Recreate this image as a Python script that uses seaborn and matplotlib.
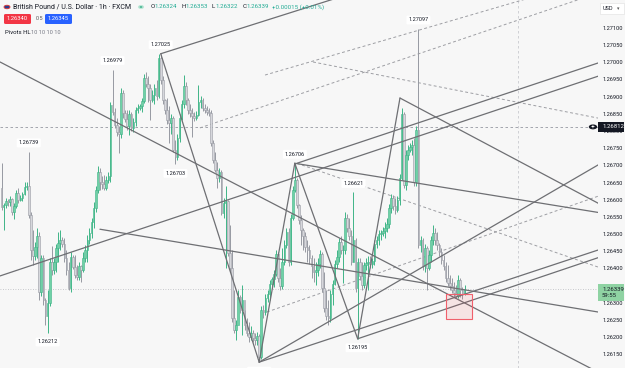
import numpy as np
import pandas as pd
import matplotlib
matplotlib.use("Agg")
import matplotlib.pyplot as plt
import seaborn as sns
from matplotlib.patches import Rectangle, FancyBboxPatch, Circle

sns.set_theme(style="white")
plt.rcParams["font.family"] = ["Roboto", "DejaVu Sans"]

# ---------------- data (GBPUSD 1h) ----------------
first_open = 1.26634
closes = [1.26579,1.26585,1.26596,1.26592,1.26602,1.26564,1.26582,1.26620,1.26599,1.26606,
          1.26617,1.26637,1.26640,1.26555,1.26453,1.26436,1.26462,1.26494,1.26331,1.26430,
          1.26308,1.26261,1.26299,1.26418,1.26395,1.26420,1.26459,1.26474,1.26483,1.26470,
          1.26430,1.26395,1.26343,1.26433,1.26405,1.26380,1.26375,1.26407,1.26395,1.26430,
          1.26453,1.26483,1.26503,1.26535,1.26576,1.26628,1.26680,1.26651,1.26645,1.26634,
          1.26657,1.26670,1.26875,1.26855,1.26817,1.26797,1.26791,1.26910,1.26852,1.26835,
          1.26814,1.26849,1.26808,1.26826,1.26861,1.26867,1.26872,1.26887,1.26954,1.26937,
          1.26925,1.26890,1.26905,1.26925,1.26902,1.27012,1.26948,1.26890,1.26860,1.26832,
          1.26823,1.26838,1.26744,1.26724,1.26779,1.26838,1.26878,1.26931,1.26890,1.26861,
          1.26852,1.26843,1.26838,1.26846,1.26884,1.26890,1.26867,1.26861,1.26855,1.26852,
          1.26765,1.26716,1.26686,1.26663,1.26680,1.26561,1.26590,1.26596,1.26445,1.26401,
          1.26255,1.26220,1.26235,1.26316,1.26278,1.26308,1.26235,1.26212,1.26200,1.26212,
          1.26197,1.26191,1.26203,1.26142,1.26278,1.26273,1.26313,1.26325,1.26354,1.26368,
          1.26383,1.26442,1.26372,1.26348,1.26418,1.26468,1.26506,1.26418,1.26547,1.26628,
          1.26657,1.26585,1.26541,1.26512,1.26494,1.26462,1.26453,1.26430,1.26407,1.26389,
          1.26395,1.26413,1.26442,1.26343,1.26285,1.26261,1.26255,1.26325,1.26354,1.26413,
          1.26433,1.26477,1.26453,1.26453,1.26547,1.26517,1.26494,1.26418,1.26483,1.26343,
          1.26418,1.26378,1.26351,1.26410,1.26416,1.26418,1.26413,1.26421,1.26471,1.26483,
          1.26500,1.26503,1.26510,1.26517,1.26529,1.26576,1.26605,1.26582,1.26570,1.26599,
          1.26663,1.26849,1.26643,1.26730,1.26745,1.26752,1.26759,1.26651,1.26803,1.26468,
          1.26483,1.26407,1.26459,1.26401,1.26439,1.26483,1.26503,1.26483,1.26468,1.26448,
          1.26424,1.26407,1.26372,1.26358,1.26348,1.26337,1.26329,1.26320,1.26366,1.26337,
          1.26324,1.26339]
highs = [1.26707,1.26590,1.26605,1.26602,1.26611,1.26605,1.26590,1.26628,1.26634,1.26615,
         1.26622,1.26651,1.26651,1.26739,1.26564,1.26512,1.26478,1.26517,1.26506,1.26439,
         1.26439,1.26313,1.26337,1.26430,1.26465,1.26430,1.26471,1.26506,1.26512,1.26490,
         1.26488,1.26453,1.26418,1.26448,1.26440,1.26439,1.26410,1.26418,1.26410,1.26448,
         1.26468,1.26497,1.26517,1.26547,1.26593,1.26640,1.26698,1.26692,1.26668,1.26672,
         1.26669,1.26682,1.26884,1.26979,1.26867,1.26838,1.26814,1.26925,1.26919,1.26860,
         1.26861,1.26861,1.26855,1.26838,1.26870,1.26878,1.26880,1.26896,1.26966,1.26972,
         1.26960,1.26937,1.26918,1.26937,1.26948,1.27024,1.27025,1.26960,1.26892,1.26896,
         1.26873,1.26849,1.26843,1.26774,1.26791,1.26849,1.26890,1.26963,1.26942,1.26896,
         1.26878,1.26867,1.26855,1.26858,1.26934,1.26902,1.26896,1.26878,1.26873,1.26867,
         1.26861,1.26774,1.26739,1.26710,1.26692,1.26686,1.26605,1.26640,1.26600,1.26526,
         1.26453,1.26337,1.26249,1.26337,1.26322,1.26351,1.26278,1.26255,1.26244,1.26232,
         1.26220,1.26212,1.26214,1.26209,1.26290,1.26293,1.26325,1.26337,1.26366,1.26376,
         1.26395,1.26453,1.26448,1.26401,1.26459,1.26483,1.26517,1.26517,1.26558,1.26640,
         1.26706,1.26663,1.26587,1.26555,1.26517,1.26506,1.26483,1.26468,1.26439,1.26430,
         1.26418,1.26430,1.26453,1.26448,1.26389,1.26337,1.26308,1.26337,1.26366,1.26424,
         1.26453,1.26488,1.26494,1.26468,1.26564,1.26558,1.26547,1.26512,1.26621,1.26488,
         1.26430,1.26430,1.26418,1.26418,1.26430,1.26436,1.26436,1.26430,1.26483,1.26494,
         1.26512,1.26512,1.26520,1.26535,1.26547,1.26587,1.26617,1.26614,1.26605,1.26611,
         1.26675,1.26867,1.26855,1.26745,1.26759,1.26765,1.26774,1.26779,1.26814,1.27097,
         1.26494,1.26488,1.26471,1.26465,1.26453,1.26494,1.26526,1.26517,1.26506,1.26474,
         1.26459,1.26439,1.26418,1.26410,1.26381,1.26372,1.26360,1.26351,1.26381,1.26372,
         1.26346,1.26353]
lows = [1.26570,1.26512,1.26576,1.26583,1.26582,1.26555,1.26544,1.26576,1.26590,1.26595,
        1.26596,1.26614,1.26628,1.26547,1.26424,1.26410,1.26425,1.26430,1.26308,1.26319,
        1.26293,1.26235,1.26212,1.26290,1.26380,1.26385,1.26389,1.26418,1.26453,1.26462,
        1.26418,1.26380,1.26337,1.26331,1.26398,1.26372,1.26366,1.26366,1.26360,1.26389,
        1.26418,1.26418,1.26471,1.26488,1.26517,1.26564,1.26620,1.26628,1.26630,1.26628,
        1.26628,1.26650,1.26651,1.26846,1.26808,1.26785,1.26736,1.26779,1.26838,1.26825,
        1.26803,1.26788,1.26800,1.26797,1.26814,1.26852,1.26860,1.26855,1.26881,1.26928,
        1.26884,1.26832,1.26885,1.26878,1.26890,1.26896,1.26937,1.26878,1.26850,1.26820,
        1.26765,1.26791,1.26739,1.26703,1.26716,1.26768,1.26832,1.26867,1.26875,1.26849,
        1.26841,1.26782,1.26829,1.26832,1.26843,1.26867,1.26858,1.26852,1.26846,1.26843,
        1.26756,1.26707,1.26680,1.26634,1.26651,1.26555,1.26547,1.26401,1.26436,1.26389,
        1.26244,1.26212,1.26191,1.26244,1.26270,1.26206,1.26220,1.26203,1.26185,1.26191,
        1.26185,1.26177,1.26177,1.26127,1.26136,1.26255,1.26264,1.26302,1.26308,1.26345,
        1.26346,1.26378,1.26360,1.26337,1.26340,1.26410,1.26459,1.26407,1.26410,1.26541,
        1.26622,1.26576,1.26529,1.26468,1.26453,1.26448,1.26418,1.26413,1.26372,1.26360,
        1.26351,1.26378,1.26401,1.26331,1.26273,1.26249,1.26235,1.26244,1.26293,1.26351,
        1.26401,1.26418,1.26442,1.26357,1.26442,1.26506,1.26483,1.26410,1.26418,1.26331,
        1.26195,1.26366,1.26337,1.26343,1.26395,1.26337,1.26401,1.26401,1.26410,1.26459,
        1.26468,1.26483,1.26495,1.26488,1.26506,1.26517,1.26561,1.26570,1.26558,1.26564,
        1.26585,1.26657,1.26634,1.26628,1.26716,1.26738,1.26730,1.26640,1.26640,1.26459,
        1.26448,1.26396,1.26389,1.26337,1.26395,1.26418,1.26468,1.26468,1.26453,1.26436,
        1.26413,1.26396,1.26360,1.26349,1.26337,1.26329,1.26317,1.26314,1.26314,1.26317,
        1.26311,1.26322]

# pivot labels: bar index, text above (True) / below (False)
pivot_bars = [13, 22, 53, 76, 83, 123, 140, 168, 170, 199]
pivot_above = [True, False, True, True, False, False, True, True, False, True]
pivot_text = ["1.26739", "1.26212", "1.26979", "1.27025", "1.26703", "1.26127",
              "1.26706", "1.26621", "1.26195", "1.27097"]

# trend lines: (bar0, price0) -> (bar1, price1), optionally extended to the right
solid_b0 = [-0.7, 47.0, -0.7, 76.0, 76.0, 123.0, 140.0, 170.0, 190.2, 123.0, 140.0,
            170.0, 123.0, 141.0]
solid_p0 = [1.27001, 1.26514, 1.26378, 1.27025, 1.27025, 1.26127, 1.26706, 1.26195,
            1.26896, 1.26127, 1.26706, 1.26195, 1.26127, 1.26706]
solid_b1 = [284.7, 284.7, 277.6, 156.8, 123.0, 140.0, 170.0, 190.2, 277.6, 277.6, 277.6,
            284.7, 284.7, 284.7]
solid_p1 = [1.26098, 1.26273, 1.26945, 1.27181, 1.26127, 1.26706, 1.26195, 1.26896,
            1.26613, 1.26439, 1.26570, 1.26431, 1.26701, 1.26998]
solid_ext = [True, True, True, True, False, False, False, False, True, True, True,
             True, True, True]
dash_b0 = [125.8, 94.7, 148.7, 126.7, 141.0]
dash_p0 = [1.26963, 1.26809, 1.27001, 1.26273, 1.26706]
dash_b1 = [204.5, 204.5, 204.5, 284.7, 284.7]
dash_p1 = [1.27103, 1.27036, 1.26934, 1.26610, 1.26404]
dash_ext = [True, True, True, True, True]

last_price = 1.26339
cross_price = 1.26812
axis_ticks = [1.26150, 1.26200, 1.26250, 1.26300, 1.26350, 1.26400, 1.26450, 1.26500,
              1.26550, 1.26600, 1.26650, 1.26700, 1.26750, 1.26800, 1.26850, 1.26900,
              1.26950, 1.27000, 1.27050, 1.27100]

# ---------------- figure ----------------
W, H = 625, 368
PLOT_W = 598
n = len(closes)
opens = [first_open] + closes[:-1]
df = pd.DataFrame({"bar": np.arange(n), "open": opens, "high": highs,
                   "low": lows, "close": closes})
df["up"] = df["close"] >= df["open"]

dx = (464.5 - 1.5) / (n - 1)
xlim = (-1.5 / dx, (PLOT_W - 1.5) / dx)
ylim = (1.261099, 1.271815)

BG = "#f7f7f7"
fig = plt.figure(figsize=(W / 100, H / 100), dpi=100, facecolor=BG)
ax = fig.add_axes([0, 0, PLOT_W / W, 1])
ax.set_facecolor(BG)
for s in ax.spines.values():
    s.set_visible(False)

UP_F, UP_E = "#6fd1a6", "#3fb487"
DN_F, DN_E = "#d6d7dc", "#979aa2"

# wicks
wick_colors = np.where(df["up"], UP_E, DN_E)
ax.vlines(df["bar"], df["low"], df["high"], colors=wick_colors, linewidth=0.7, zorder=3)
# bodies
body_bottom = np.minimum(df["open"], df["close"])
body_h = np.maximum(np.abs(df["close"] - df["open"]), 0.000012)
ax.bar(df["bar"], body_h, bottom=body_bottom, width=0.78,
       color=np.where(df["up"], UP_F, DN_F),
       edgecolor=np.where(df["up"], UP_E, DN_E), linewidth=0.4, zorder=4)

# trend lines via seaborn
def line_frame(b0, p0, b1, p1, ext):
    rows = []
    for k, (a, pa, b, pb, e) in enumerate(zip(b0, p0, b1, p1, ext)):
        if e:
            slope = (pb - pa) / (b - a)
            b_end = xlim[1] + 2
            pb, b = pa + slope * (b_end - a), b_end
        rows += [(k, a, pa), (k, b, pb)]
    return pd.DataFrame(rows, columns=["line", "bar", "price"])

solid_df = line_frame(solid_b0, solid_p0, solid_b1, solid_p1, solid_ext)
sns.lineplot(data=solid_df, x="bar", y="price", units="line", estimator=None,
             color="#6e6f73", linewidth=0.9, ax=ax, zorder=5, sort=False)
dash_df = line_frame(dash_b0, dash_p0, dash_b1, dash_p1, dash_ext)
sns.lineplot(data=dash_df, x="bar", y="price", units="line", estimator=None,
             color="#9d9ea3", linewidth=0.7, ax=ax, zorder=2, sort=False,
             linestyle=(0, (3, 2.5)))
ax.set_xlabel("")
ax.set_ylabel("")
ax.set_xlim(*xlim)
ax.set_ylim(*ylim)
ax.set_xticks([])
ax.yaxis.tick_right()
ax.set_yticks(axis_ticks)
ax.set_yticklabels([f"{t:.5f}" for t in axis_ticks])
ax.tick_params(axis="y", length=0, pad=3.2, labelsize=4.1, labelcolor="#131722")

# crosshair & last price lines
ax.axhline(cross_price, color="#9598a1", lw=0.6, ls=(0, (3, 3)), zorder=1)
ax.axvline((518 - 1.5) / dx, color="#c9cacf", lw=0.6, ls=(0, (3, 3)), zorder=1)
ax.axhline(last_price, color="#b8b9be", lw=0.6, ls=(0, (1, 2)), zorder=1)

# red highlight box
bx = (446 - 1.5) / dx
ax.add_patch(Rectangle((bx, 1.26252), 26 / dx, 0.00072,
                       facecolor="#f23645", alpha=0.10, edgecolor="none", zorder=6))
ax.add_patch(Rectangle((bx, 1.26252), 26 / dx, 0.00072,
                       facecolor="none", edgecolor="#f0606c", lw=0.8, zorder=6))

# pivot labels
for b, above, t in zip(pivot_bars, pivot_above, pivot_text):
    price = df.loc[b, "high"] if above else df.loc[b, "low"]
    off = 6.5 if above else -6.5
    ax.annotate(t, (b, price), xytext=(0, off), textcoords="offset points",
                ha="center", va="center", fontsize=4.0, color="#131722", zorder=8,
                bbox=dict(boxstyle="round,pad=0.35,rounding_size=0.2", fc="white",
                          ec="none"))

# ---------------- header ----------------
def ftxt(x, y, s, **kw):
    fig.text(x / W, 1 - y / H, s, va="center", **kw)

fig.patches.append(Circle((7 / W, 1 - 7 / H), 3 / W, transform=fig.transFigure,
                          facecolor="#2b3f8f", edgecolor="#d33", lw=0.6))
ftxt(13, 7, "British Pound / U.S. Dollar · 1h · FXCM", fontsize=5.0, color="#131722")
fig.patches.append(Circle((141 / W, 1 - 7 / H), 2.3 / W, transform=fig.transFigure,
                          facecolor="#1fa37a", edgecolor="#bfe8d8", lw=1.0))
ohlc = [("O", "1.26324"), ("H", "1.26353"), ("L", "1.26322"), ("C", "1.26339")]
xx = 151
for k, v in ohlc:
    ftxt(xx, 7, k, fontsize=4.4, color="#131722")
    ftxt(xx + 3.8, 7, v, fontsize=4.4, color="#22ab94")
    xx += 30.5
ftxt(xx - 1, 7, "+0.00015 (+0.01%)", fontsize=4.4, color="#22ab94")

fig.patches.append(FancyBboxPatch((4 / W, 1 - 24 / H), 27 / W, 10 / H,
                                  boxstyle="round,pad=0,rounding_size=0.003",
                                  transform=fig.transFigure, fc="#f23645", ec="none"))
ftxt(17.5, 19, "1.26340", fontsize=4.2, color="white", ha="center")
ftxt(36, 19, "0.5", fontsize=4.0, color="#555")
fig.patches.append(FancyBboxPatch((45 / W, 1 - 24 / H), 27 / W, 10 / H,
                                  boxstyle="round,pad=0,rounding_size=0.003",
                                  transform=fig.transFigure, fc="#2962ff", ec="none"))
ftxt(58.5, 19, "1.26345", fontsize=4.2, color="white", ha="center")
ftxt(5, 32, "Pivots HL", fontsize=4.3, color="#131722")
ftxt(31, 32, "10 10 10 10", fontsize=4.1, color="#787b86")

# ---------------- right price-axis tags ----------------
fig.patches.append(Rectangle((600 / W, 1 - 14 / H), 24 / W, 11 / H, transform=fig.transFigure,
                             fc="white", ec="#e0e0e0", lw=0.4))
ftxt(603, 8.5, "USD", fontsize=4.0, color="#131722")
ftxt(617, 8.5, "▾", fontsize=3.5, color="#555")

ypix = lambda p: (p - ylim[0]) / (ylim[1] - ylim[0])
fig.patches.append(Rectangle((PLOT_W / W, ypix(cross_price) - 5 / H), (W - PLOT_W - 1) / W,
                             10 / H, transform=fig.transFigure, fc="#131722", ec="none"))
fig.text((PLOT_W + 4) / W, ypix(cross_price), f"{cross_price:.5f}", fontsize=4.3,
         color="white", va="center")
fig.patches.append(Circle((593 / W, ypix(cross_price)), 4.2 / W, transform=fig.transFigure,
                          fc="#131722", ec="none"))
fig.text(593 / W, ypix(cross_price), "+", fontsize=5, color="white", ha="center",
         va="center")

fig.patches.append(Rectangle((PLOT_W / W, ypix(last_price) - 12 / H), (W - PLOT_W - 1) / W,
                             17 / H, transform=fig.transFigure, fc="#8fd3a3", ec="none"))
fig.text((PLOT_W + 4) / W, ypix(last_price), f"{last_price:.5f}", fontsize=4.3,
         color="#131722", va="center")
fig.text((PLOT_W + 4) / W, ypix(last_price) - 6 / H, "59:55", fontsize=4.3,
         color="#131722", va="center")

fig.savefig("out.png", dpi=100, facecolor=BG)
